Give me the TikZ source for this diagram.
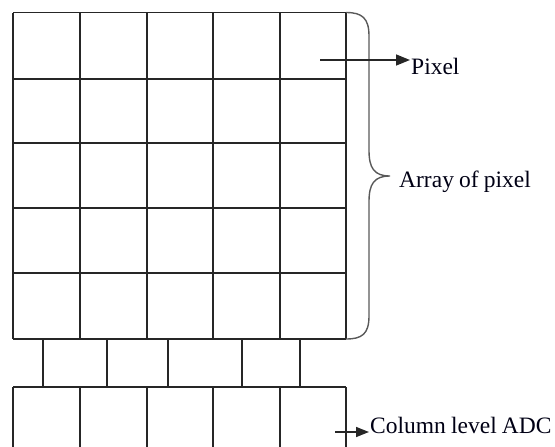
\documentclass[tikz,border=0pt]{standalone}
\usepackage{fontspec}
\setmainfont{Liberation Serif}
\usetikzlibrary{arrows.meta}

% label typeface: slightly tighter word spacing
\newcommand\labelfont{\fontsize{23.5}{27}\selectfont\spaceskip=0.22em\relax}

\begin{document}
\begin{tikzpicture}[x=1pt,y=-1pt,
  gridline/.style={line width=1.6pt, black!85},
  bracestroke/.style={line width=1.4pt, black!65},
  pointer/.style={line width=1.5pt, black!85, -{Triangle[length=14pt,width=11pt]}},
  label/.style={anchor=base west, inner sep=0pt, text=black!92!blue, font=\labelfont}]
  \useasboundingbox (0,0) rectangle (555,447);
  \clip (0,0) rectangle (555,447);

  % column and row positions of the pixel array
  \def\xL{13}\def\xR{346}
  \def\yT{12.5}\def\yB{339}
  \def\yS{387}

  % pixel array: 5 x 5 cells
  \foreach \x in {13,80,147,213,280,346}
    \draw[gridline] (\x,\yT) -- (\x,\yB);
  \foreach \y in {12.5,79,143,208,273,339}
    \draw[gridline] (\xL,\y) -- (\xR,\y);

  % readout strip between the array and the converters
  \draw[gridline] (\xL,\yS) -- (\xR,\yS);
  \foreach \x in {43,107,168,242,300}
    \draw[gridline] (\x,\yB) -- (\x,\yS);

  % column-level converters (continue below the frame)
  \foreach \x in {13,80,147,213,280,346}
    \draw[gridline] (\x,\yS) -- (\x,460);

  % brace spanning the whole array
  \coordinate (bt) at (\xR,\yT);
  \coordinate (bb) at (\xR,\yB);
  \coordinate (tip) at (390,176);
  \draw[bracestroke] (bt) .. controls (362,12.5) and (369,18) .. (369,36)
    -- (369,150) .. controls (369,168) and (374,176) .. (tip)
    .. controls (374,176) and (369,184) .. (369,202)
    -- (369,316) .. controls (369,334) and (362,339) .. (bb);

  % labels
  \node[label] (pixel) at (411,74) {Pixel};
  \node[label] (array) at (399,187) {Array of pixel};
  \node[label] (adc) at (370,433) {Column level ADC};

  % pointers to the labels
  \coordinate (pixsrc) at (320,60);
  \coordinate (adcsrc) at (335,432);
  \draw[pointer] (pixsrc) -- ([xshift=-1pt]pixel.west |- pixsrc);
  \draw[pointer, -{Triangle[length=13pt,width=10pt]}] (adcsrc) -- ([xshift=-1pt]adc.west |- adcsrc);
\end{tikzpicture}
\end{document}
